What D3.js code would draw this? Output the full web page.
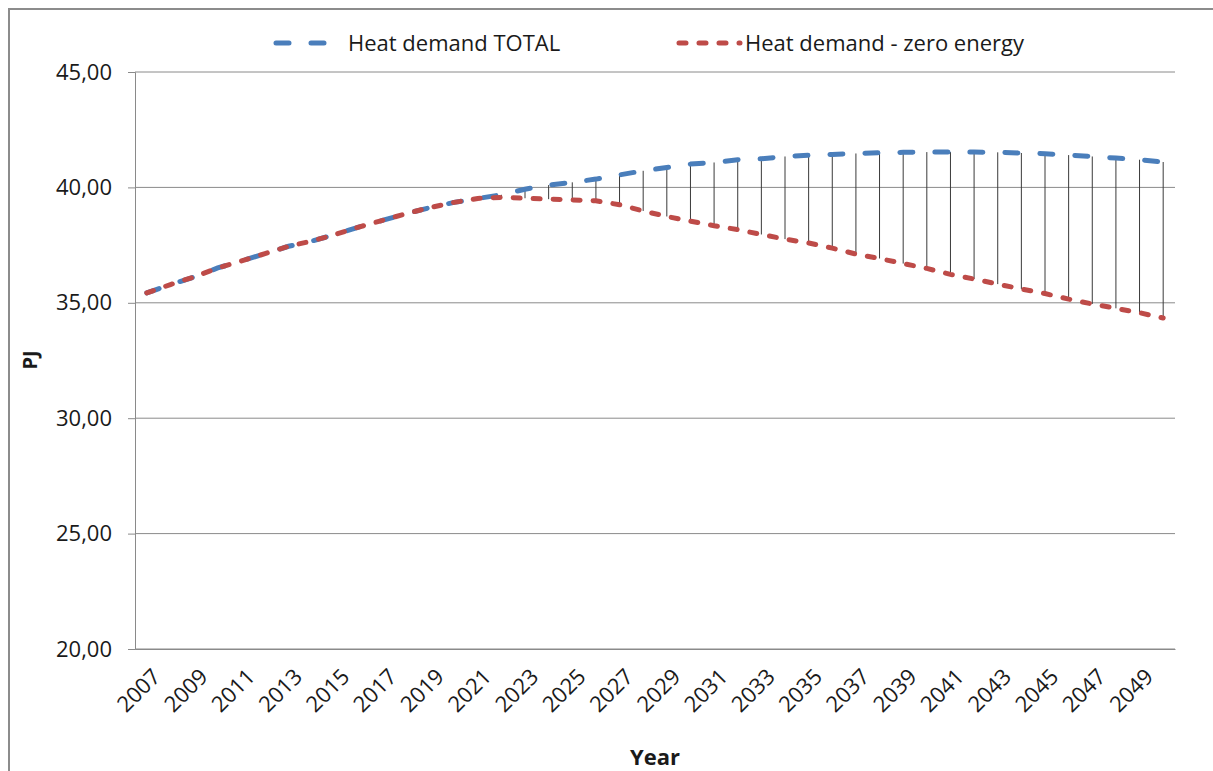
<!DOCTYPE html>
<html>
<head>
<meta charset="utf-8">
<script src="https://cdn.jsdelivr.net/npm/d3@7"></script>
<style>
  html, body { margin: 0; padding: 0; background: #fff; }
  svg { display: block; font-family: "Open Sans", sans-serif; }
</style>
</head>
<body>
<svg id="chart"></svg>
<script>
// categories
const years = [
  2007, 2008, 2009, 2010, 2011, 2012, 2013, 2014, 2015, 2016, 2017,
  2018, 2019, 2020, 2021, 2022, 2023, 2024, 2025, 2026, 2027, 2028,
  2029, 2030, 2031, 2032, 2033, 2034, 2035, 2036, 2037, 2038, 2039,
  2040, 2041, 2042, 2043, 2044, 2045, 2046, 2047, 2048, 2049, 2050
];

// PJ values
const heatTotal = [
  35.43, 35.79, 36.12, 36.51, 36.81, 37.13, 37.45, 37.68, 37.97, 38.29, 38.58,
  38.87, 39.13, 39.35, 39.52, 39.68, 39.92, 40.10, 40.22, 40.36, 40.54, 40.72,
  40.86, 41.01, 41.08, 41.20, 41.24, 41.34, 41.39, 41.43, 41.47, 41.50, 41.52,
  41.53, 41.53, 41.53, 41.52, 41.49, 41.46, 41.40, 41.34, 41.27, 41.20, 41.10
];
const heatZero = [
  35.43, 35.79, 36.12, 36.51, 36.81, 37.13, 37.45, 37.68, 37.97, 38.29, 38.58,
  38.87, 39.13, 39.35, 39.52, 39.57, 39.53, 39.49, 39.46, 39.42, 39.25, 38.98,
  38.74, 38.54, 38.34, 38.17, 37.96, 37.76, 37.59, 37.37, 37.11, 36.92, 36.70,
  36.49, 36.23, 36.03, 35.81, 35.60, 35.40, 35.16, 34.95, 34.76, 34.57, 34.34
];

const yTicks = [20, 25, 30, 35, 40, 45];
const xTickYears = years.filter((d) => d % 2 === 1);
const seriesNames = ["Heat demand TOTAL", "Heat demand - zero energy"];

const width = 1213;
const height = 771;
const plot = { left: 135, right: 1175, top: 72, bottom: 649 };

const svg = d3.select("#chart").attr("width", width).attr("height", height);

// outer frame (only left and top show in the crop)
svg.append("path")
  .attr("d", `M9,${height} V9 H${width}`)
  .attr("fill", "none")
  .attr("stroke", "#8c8c8c")
  .attr("stroke-width", 2);

const x = d3.scaleBand().domain(years).range([plot.left, plot.right]).padding(0);
const cx = (d) => x(d) + x.bandwidth() / 2;
const y = d3.scaleLinear().domain([20, 45]).range([plot.bottom, plot.top]);

// gridlines
svg.append("g")
  .selectAll("line")
  .data(yTicks)
  .join("line")
  .attr("x1", plot.left)
  .attr("x2", plot.right)
  .attr("y1", (d) => y(d))
  .attr("y2", (d) => y(d))
  .attr("stroke", "#8a8a8a")
  .attr("stroke-width", 1);

// y axis
const fmt = (d) => d3.format(".2f")(d).replace(".", ",");
const yAxis = svg.append("g")
  .attr("transform", `translate(${plot.left},0)`)
  .call(d3.axisLeft(y).tickValues(yTicks).tickFormat(fmt).tickSize(7).tickPadding(16));
yAxis.select(".domain").attr("stroke", "#8a8a8a");
yAxis.selectAll(".tick line").attr("stroke", "#8a8a8a");
yAxis.selectAll("text")
  .attr("font-size", 22)
  .attr("fill", "#1a1a1a")
  .attr("font-family", "Open Sans, sans-serif");

// x axis
const xAxis = svg.append("g")
  .attr("transform", `translate(0,${plot.bottom})`)
  .call(d3.axisBottom(x).tickValues(xTickYears).tickSize(0));
xAxis.select(".domain").attr("stroke", "#8a8a8a");
xAxis.selectAll("text")
  .attr("font-size", 22)
  .attr("fill", "#1a1a1a")
  .attr("font-family", "Open Sans, sans-serif")
  .attr("text-anchor", "end")
  .attr("x", 0)
  .attr("y", 0)
  .attr("dy", 0)
  .attr("transform", "translate(15,29) rotate(-45)");

// high-low drop lines
svg.append("g")
  .selectAll("line")
  .data(years)
  .join("line")
  .attr("x1", (d) => cx(d))
  .attr("x2", (d) => cx(d))
  .attr("y1", (d, i) => y(heatTotal[i]))
  .attr("y2", (d, i) => y(heatZero[i]))
  .attr("stroke", "#3a3a3a")
  .attr("stroke-width", 1);

const line = d3.line().x((d) => cx(d[0])).y((d) => y(d[1]));

const series = [
  { name: seriesNames[0], values: heatTotal, color: "#4a7ebb", dash: "13 22" },
  { name: seriesNames[1], values: heatZero, color: "#be4b48", dash: "7 13" }
];

series.forEach((s) => {
  svg.append("path")
    .datum(years.map((yr, i) => [yr, s.values[i]]))
    .attr("d", line)
    .attr("fill", "none")
    .attr("stroke", s.color)
    .attr("stroke-width", 5)
    .attr("stroke-linecap", "round")
    .attr("stroke-dasharray", s.dash);
});

// legend
const legendItems = [
  { s: series[0], x1: 276, x2: 324, tx: 348 },
  { s: series[1], x1: 679, x2: 740, tx: 745 }
];
const legend = svg.append("g");
legend.selectAll("line")
  .data(legendItems)
  .join("line")
  .attr("x1", (d) => d.x1)
  .attr("x2", (d) => d.x2)
  .attr("y1", 43)
  .attr("y2", 43)
  .attr("stroke", (d) => d.s.color)
  .attr("stroke-width", 5)
  .attr("stroke-linecap", "round")
  .attr("stroke-dasharray", (d) => d.s.dash);
legend.selectAll("text")
  .data(legendItems)
  .join("text")
  .attr("x", (d) => d.tx)
  .attr("y", 51)
  .attr("font-size", 22)
  .attr("fill", "#1a1a1a")
  .text((d) => d.s.name);

// axis titles
svg.append("text")
  .attr("transform", "translate(37,360) rotate(-90)")
  .attr("text-anchor", "middle")
  .attr("font-size", 20)
  .attr("font-weight", "bold")
  .attr("fill", "#1a1a1a")
  .text("PJ");

svg.append("text")
  .attr("x", 655)
  .attr("y", 765)
  .attr("text-anchor", "middle")
  .attr("font-size", 22)
  .attr("font-weight", "bold")
  .attr("fill", "#1a1a1a")
  .text("Year");
</script>
</body>
</html>
